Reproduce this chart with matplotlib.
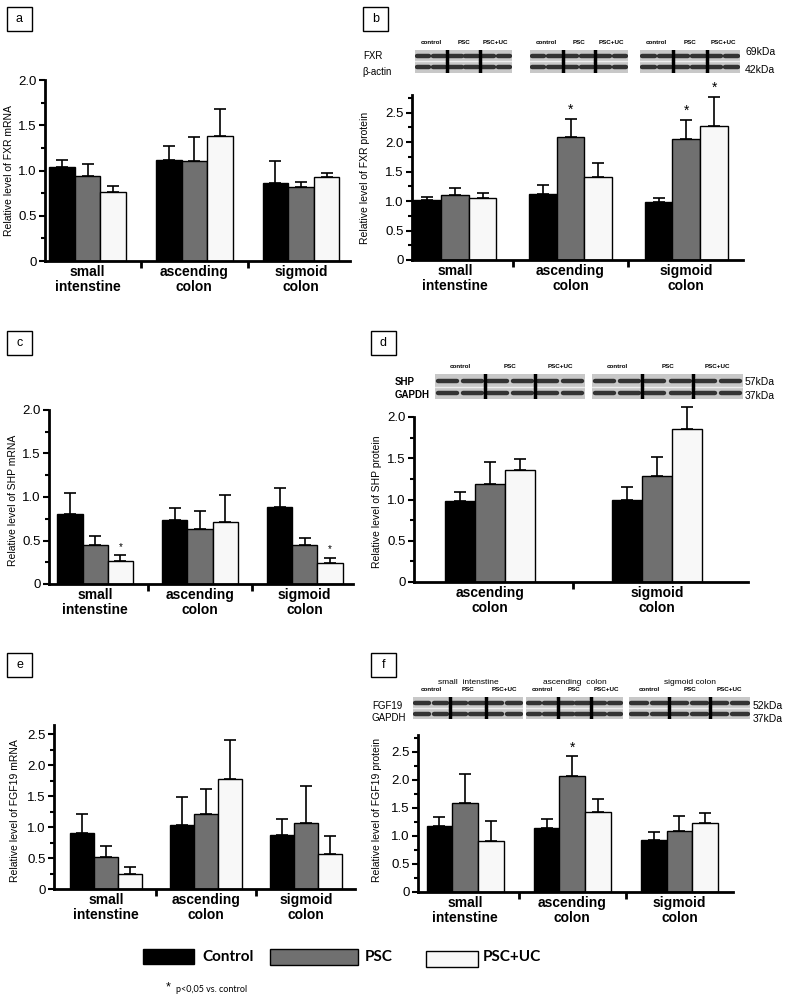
import matplotlib
matplotlib.use('Agg')
import matplotlib.pyplot as plt
from matplotlib.patches import Rectangle
from matplotlib.ticker import MultipleLocator, FuncFormatter

plt.rcParams['font.family'] = ['Liberation Sans', 'DejaVu Sans']

W, H = 787, 1000

# categories / series
groups3 = ['small\nintenstine', 'ascending\ncolon', 'sigmoid\ncolon']
groups2 = ['ascending\ncolon', 'sigmoid\ncolon']
series = ['Control', 'PSC', 'PSC+UC']
colors = ['#000000', '#707070', '#f8f8f8']

# a - FXR mRNA
fxr_mrna = [[1.04, 1.12, 0.86], [0.94, 1.11, 0.82], [0.76, 1.38, 0.93]]
fxr_mrna_err = [[0.08, 0.15, 0.24], [0.13, 0.26, 0.05], [0.07, 0.30, 0.04]]
# b - FXR protein
fxr_prot = [[1.02, 1.12, 0.98], [1.11, 2.08, 2.06], [1.06, 1.41, 2.27]]
fxr_prot_err = [[0.05, 0.16, 0.08], [0.12, 0.32, 0.32], [0.07, 0.23, 0.50]]
fxr_prot_stars = [(1, 1), (1, 2), (2, 2)]
# c - SHP mRNA
shp_mrna = [[0.81, 0.73, 0.88], [0.45, 0.63, 0.45], [0.27, 0.71, 0.24]]
shp_mrna_err = [[0.24, 0.14, 0.22], [0.10, 0.21, 0.08], [0.06, 0.31, 0.06]]
shp_mrna_stars = [(2, 0), (2, 2)]
# d - SHP protein
shp_prot = [[0.98, 1.00], [1.19, 1.28], [1.36, 1.85]]
shp_prot_err = [[0.11, 0.15], [0.27, 0.24], [0.13, 0.27]]
# e - FGF19 mRNA
fgf_mrna = [[0.90, 1.04, 0.88], [0.52, 1.21, 1.06], [0.25, 1.78, 0.57]]
fgf_mrna_err = [[0.31, 0.45, 0.25], [0.18, 0.40, 0.60], [0.10, 0.63, 0.28]]
# f - FGF19 protein
fgf_prot = [[1.17, 1.14, 0.93], [1.59, 2.07, 1.09], [0.91, 1.43, 1.23]]
fgf_prot_err = [[0.16, 0.16, 0.14], [0.51, 0.36, 0.26], [0.36, 0.22, 0.18]]
fgf_prot_stars = [(1, 1)]

fig = plt.figure(figsize=(W / 100, H / 100), dpi=100)


def rect(x0, y0, x1, y1):
    # pixel box -> figure fraction
    return [x0 / W, 1 - y1 / H, (x1 - x0) / W, (y1 - y0) / H]


def ftext(x, y, s, **kw):
    fig.text(x / W, 1 - y / H, s, **kw)


def fbox(x0, y0, x1, y1, fc='none', lw=1.0):
    fig.add_artist(Rectangle((x0 / W, 1 - y1 / H), (x1 - x0) / W, (y1 - y0) / H,
                             transform=fig.transFigure, facecolor=fc,
                             edgecolor='black', lw=lw))


def bar_panel(box, cats, vals, errs, ymax, xlim, width, ylabel, ylab_xy,
              stars=(), star_size=10, star_gap=0.1):
    ax = fig.add_axes(rect(*box))
    x = list(range(len(cats)))
    for k in range(3):
        xs = [i + (k - 1) * width for i in x]
        ax.bar(xs, vals[k], width, color=colors[k], edgecolor='black',
               linewidth=1.0, zorder=2)
        ax.errorbar(xs, vals[k], yerr=[[0] * len(x), errs[k]], fmt='none',
                    ecolor='black', elinewidth=1.2, capsize=4, capthick=1.2,
                    zorder=1, clip_on=False)
    for k, g in stars:
        ax.text(g + (k - 1) * width, vals[k][g] + errs[k][g] + star_gap, '*',
                ha='center', va='center', fontsize=star_size, clip_on=False)
    ax.set_xlim(*xlim)
    ax.set_ylim(0, ymax)
    ax.spines['top'].set_visible(False)
    ax.spines['right'].set_visible(False)
    ax.spines['left'].set_linewidth(2)
    ax.spines['bottom'].set_linewidth(2)
    ax.yaxis.set_major_locator(MultipleLocator(0.5))
    ax.yaxis.set_minor_locator(MultipleLocator(0.25))
    ax.yaxis.set_major_formatter(FuncFormatter(lambda v, p: '0' if v == 0 else f'{v:.1f}'))
    ax.tick_params(axis='y', which='major', length=4, width=1.5, labelsize=9.5, pad=2)
    ax.tick_params(axis='y', which='minor', length=3, width=1.5)
    ax.set_xticks(x)
    ax.set_xticklabels(cats, fontsize=10, fontweight='bold', linespacing=1.1)
    ax.set_xticks([i + 0.5 for i in x[:-1]], minor=True)
    ax.tick_params(axis='x', which='major', length=0, pad=3)
    ax.tick_params(axis='x', which='minor', length=5, width=2)
    ftext(ylab_xy[0], ylab_xy[1], ylabel, rotation=90, ha='center', va='center', fontsize=7.5)
    return ax


def blot(x0, y0, x1, y1, lanes=6):
    bx = fig.add_axes(rect(x0, y0, x1, y1))
    bx.set_xlim(0, lanes)
    bx.set_ylim(0, 2)
    bx.set_facecolor('#c8c8c8')
    for i in range(lanes):
        bx.plot([i + 0.12, i + 0.88], [1.45, 1.45], color='#333333', lw=3.2,
                solid_capstyle='round')
        bx.plot([i + 0.12, i + 0.88], [0.5, 0.5], color='#333333', lw=3.2,
                solid_capstyle='round')
    bx.axhline(1.0, color='#eeeeee', lw=1)
    for s in (2, 4):
        bx.axvline(s, color='black', lw=2.5)
    bx.set_xticks([])
    bx.set_yticks([])
    for sp in bx.spines.values():
        sp.set_visible(False)
    # lane labels
    third = (x1 - x0) / 3
    for j, lab in enumerate(['control', 'PSC', 'PSC+UC']):
        ftext(x0 + third * (j + 0.5), y0 - 5, lab, ha='center', va='bottom',
              fontsize=4.5, fontweight='bold')


# panel letters
for lab, (bx0, by0) in zip('abcdef', [(7, 7), (363, 7), (7, 331), (371, 331), (7, 653), (371, 653)]):
    fbox(bx0, by0, bx0 + 25, by0 + 24)
    ftext(bx0 + 12.5, by0 + 12, lab, ha='center', va='center', fontsize=9)

# a
bar_panel((45, 80, 350, 261), groups3, fxr_mrna, fxr_mrna_err, 2.0, (-0.4, 2.46), 0.24,
          'Relative level of FXR mRNA', (9, 171))
# b
bar_panel((412, 95, 743, 260), groups3, fxr_prot, fxr_prot_err, 2.8, (-0.37, 2.49), 0.24,
          'Relative level of FXR protein', (365, 178), fxr_prot_stars, 10, 0.15)
for bx0, bx1 in [(415, 512), (530, 628), (640, 740)]:
    blot(bx0, 50, bx1, 73)
ftext(363, 56, 'FXR', fontsize=7, va='center')
ftext(362, 72, 'β-actin', fontsize=7, va='center')
ftext(745, 52, '69kDa', fontsize=7.5, va='center')
ftext(745, 70, '42kDa', fontsize=7.5, va='center')

# c
bar_panel((49, 410, 353, 584), groups3, shp_mrna, shp_mrna_err, 2.0, (-0.44, 2.46), 0.24,
          'Relative level of SHP mRNA', (13, 500), shp_mrna_stars, 7, 0.1)
# d
bar_panel((414, 417, 748, 582), groups2, shp_prot, shp_prot_err, 2.0, (-0.455, 1.545), 0.18,
          'Relative level of SHP protein', (377, 502))
for bx0, bx1 in [(435, 585), (592, 743)]:
    blot(bx0, 374, bx1, 399)
ftext(395, 382, 'SHP', fontsize=7, va='center', fontweight='bold')
ftext(395, 395, 'GAPDH', fontsize=7, va='center', fontweight='bold')
ftext(745, 382, '57kDa', fontsize=7.5, va='center')
ftext(745, 396, '37kDa', fontsize=7.5, va='center')

# e
bar_panel((54, 725, 355, 889), groups3, fgf_mrna, fgf_mrna_err, 2.65, (-0.52, 2.49), 0.24,
          'Relative level of FGF19 mRNA', (15, 811))
# f
bar_panel((418, 735, 733, 892), groups3, fgf_prot, fgf_prot_err, 2.8, (-0.44, 2.5), 0.24,
          'Relative level of FGF19 protein', (377, 810), fgf_prot_stars, 10, 0.15)
for (bx0, bx1), title in zip([(413, 523), (526, 623), (629, 750)],
                             ['small  intenstine', 'ascending  colon', 'sigmoid colon']):
    blot(bx0, 697, bx1, 719)
    ftext((bx0 + bx1) / 2, 683, title, ha='center', va='center', fontsize=6)
ftext(372, 706, 'FGF19', fontsize=7, va='center')
ftext(372, 718, 'GAPDH', fontsize=7, va='center')
ftext(753, 706, '52kDa', fontsize=7.5, va='center')
ftext(753, 719, '37kDa', fontsize=7.5, va='center')

# legend
leg_boxes = [(143, 949, 194, 964), (270, 949, 358, 965), (426, 951, 478, 967)]
leg_text_x = [202, 365, 483]
for k in range(3):
    fbox(*leg_boxes[k], fc=colors[k])
    ftext(leg_text_x[k], 957, series[k], fontsize=11, fontweight='bold',
          va='center', family=['Lato', 'DejaVu Sans'])
ftext(168, 987, '*', fontsize=9, va='center', ha='center')
ftext(176, 990, 'p<0,05 vs. control', fontsize=6.5, va='center',
      family=['Lato', 'DejaVu Sans'])

fig.savefig('out.png', dpi=100)
